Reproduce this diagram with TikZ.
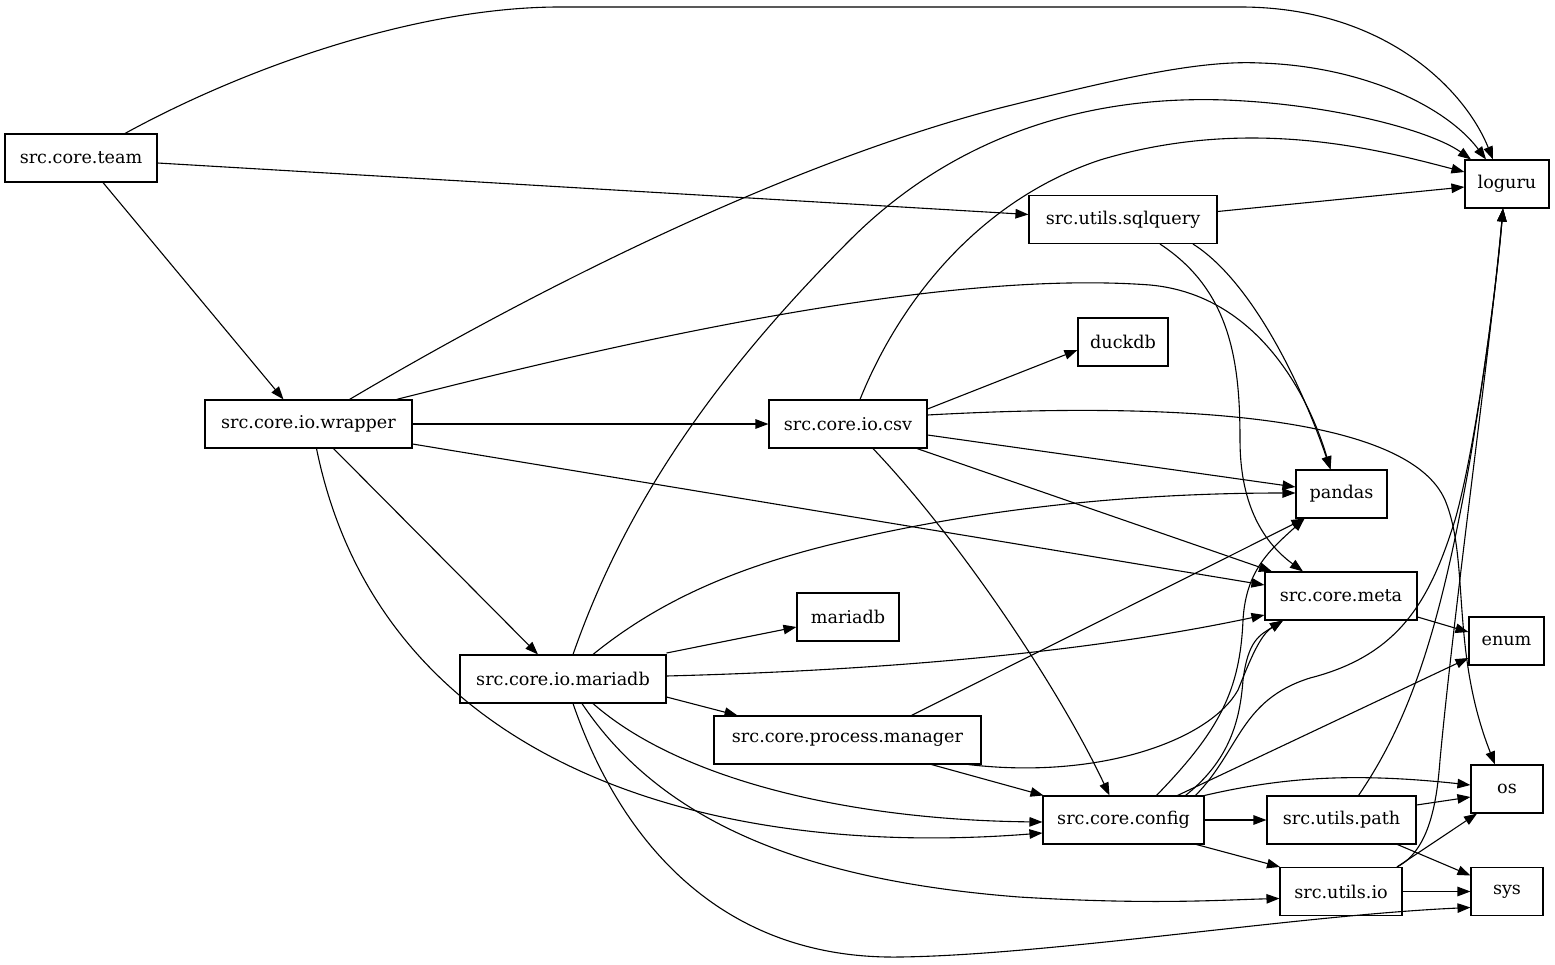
\documentclass[tikz,border=0pt]{standalone}
\usepackage{fontspec}
\setmainfont{DejaVu Serif}
\usetikzlibrary{arrows.meta}
\begin{document}
\begin{tikzpicture}[x=1pt,y=-1pt,
  font=\fontsize{17.6}{21}\selectfont,
  mod/.style={draw,line width=1.1pt,minimum height=48pt,inner sep=0pt},
  dep/.style={line width=1.1pt,-{Triangle[length=13pt,width=9.5pt]}}]
  \fill[white] (0,0) rectangle (1555,965);
  \node[mod,minimum width=152pt] (team) at (81,158) {src.core.team};
  \node[mod,minimum width=84pt] (loguru) at (1507,184) {loguru};
  \node[mod,minimum width=188pt] (sqlquery) at (1123,219.5) {src.utils.sqlquery};
  \node[mod,minimum width=90pt] (duckdb) at (1123,342) {duckdb};
  \node[mod,minimum width=207pt] (wrapper) at (308.5,424) {src.core.io.wrapper};
  \node[mod,minimum width=158pt] (csv) at (848,424) {src.core.io.csv};
  \node[mod,minimum width=91pt] (pandas) at (1341.5,494) {pandas};
  \node[mod,minimum width=152pt] (meta) at (1341,596) {src.core.meta};
  \node[mod,minimum width=102pt] (mariadb) at (848,617) {mariadb};
  \node[mod,minimum width=75pt] (enum) at (1506.5,641) {enum};
  \node[mod,minimum width=206pt] (iomariadb) at (563,679) {src.core.io.mariadb};
  \node[mod,minimum width=267pt] (manager) at (847.5,740) {src.core.process.manager};
  \node[mod,minimum width=72pt] (os) at (1507,789) {os};
  \node[mod,minimum width=161pt] (config) at (1123.5,820) {src.core.config};
  \node[mod,minimum width=149pt] (utilspath) at (1341.5,820) {src.utils.path};
  \node[mod,minimum width=122pt] (utilsio) at (1341,891.5) {src.utils.io};
  \node[mod,minimum width=72pt] (sys) at (1507,891.5) {sys};

  \draw[dep] ([xshift=44pt]team.north) .. controls (250,65) and (420,7) .. (560,7) -- (1240,7)
     .. controls (1385,7) and (1465,90) .. ([xshift=-14pt]loguru.north);
  \draw[dep] ([yshift=-5pt]team.east) -- ([yshift=5pt]sqlquery.west);
  \draw[dep] ([xshift=22pt]team.south) -- ([xshift=-25pt]wrapper.north);

  \draw[dep] ([xshift=41pt]wrapper.north) .. controls (560,275) and (800,160) .. (1000,108)
     .. controls (1120,78) and (1200,60) .. (1260,63) .. controls (1360,66) and (1445,105) .. ([xshift=-21pt]loguru.north);
  \draw[dep] ([xshift=88pt]wrapper.north) .. controls (650,335) and (950,270) .. (1150,285)
     .. controls (1260,295) and (1310,400) .. ([xshift=-11pt]pandas.north);
  \draw[dep] (wrapper.east) -- (csv.west);
  \draw[dep] ([yshift=-20pt]wrapper.east) -- ([yshift=11pt]meta.west);
  \draw[dep] ([xshift=25pt]wrapper.south) -- ([xshift=-25pt]iomariadb.north);
  \draw[dep] ([xshift=8pt]wrapper.south) .. controls (380,760) and (700,860) .. ([yshift=-13pt]config.west);

  \draw[dep] ([xshift=10pt]iomariadb.north) .. controls (620,520) and (700,390) .. (850,240)
     .. controls (950,140) and (1080,95) .. (1225,100) .. controls (1330,104) and (1430,130) .. ([xshift=-36pt]loguru.north);
  \draw[dep] ([xshift=30pt]iomariadb.north) .. controls (660,600) and (740,565) .. (850,540)
     .. controls (1000,505) and (1150,493) .. ([yshift=1pt]pandas.west);
  \draw[dep] ([yshift=26pt]iomariadb.east) -- ([yshift=-10pt]mariadb.west);
  \draw[dep] ([yshift=3pt]iomariadb.east) .. controls (900,670) and (1100,650) .. ([yshift=-19pt]meta.west);
  \draw[dep] ([yshift=-18pt]iomariadb.east) -- ([xshift=-110pt]manager.north);
  \draw[dep] ([xshift=30pt]iomariadb.south) .. controls (680,780) and (850,820) .. ([yshift=-2pt]config.west);
  \draw[dep] ([xshift=19pt]iomariadb.south) .. controls (660,820) and (800,880) .. (1019,897)
     .. controls (1150,905) and (1220,900) .. ([yshift=-7pt]utilsio.west);
  \draw[dep] ([xshift=10pt]iomariadb.south) .. controls (620,840) and (720,960) .. (900,957)
     .. controls (1050,955) and (1300,915) .. ([yshift=-16pt]sys.west);

  \draw[dep] ([xshift=12pt]csv.north) .. controls (900,300) and (980,200) .. (1100,160)
     .. controls (1250,115) and (1380,150) .. ([yshift=12pt]loguru.west);
  \draw[dep] ([yshift=15pt]csv.east) -- ([yshift=-8pt]duckdb.west);
  \draw[dep] ([yshift=9pt]csv.east) .. controls (1200,400) and (1410,420) .. (1445,500)
     .. controls (1470,560) and (1450,650) .. ([xshift=-12pt]os.north);
  \draw[dep] ([yshift=-11pt]csv.east) -- ([yshift=7pt]pandas.west);
  \draw[dep] ([xshift=69pt]csv.south) -- ([xshift=-69pt]meta.north);
  \draw[dep] ([xshift=25pt]csv.south) .. controls (960,540) and (1060,690) .. ([xshift=-14pt]config.north);

  \draw[dep] ([yshift=8pt]sqlquery.east) -- ([yshift=-3pt]loguru.west);
  \draw[dep] ([xshift=70pt]sqlquery.south) .. controls (1250,280) and (1300,380) .. ([xshift=-11pt]pandas.north);
  \draw[dep] ([xshift=37pt]sqlquery.south) .. controls (1230,290) and (1240,360) .. (1240,440)
     .. controls (1240,500) and (1260,540) .. ([xshift=-38pt]meta.north);

  \draw[dep] ([xshift=64pt]manager.north) -- ([xshift=-37pt]pandas.south);
  \draw[dep] ([xshift=121pt]manager.south) .. controls (1100,780) and (1210,740) .. (1238,690)
     .. controls (1250,660) and (1260,635) .. ([xshift=-58pt]meta.south);
  \draw[dep] ([xshift=84pt]manager.south) -- ([xshift=-80pt]config.north);

  \draw[dep] ([xshift=33pt]config.north) .. controls (1220,730) and (1240,690) .. (1243,620)
     .. controls (1246,570) and (1270,550) .. ([xshift=-37pt]pandas.south);
  \draw[dep] ([xshift=62pt]config.north) .. controls (1230,760) and (1240,720) .. (1243,680)
     .. controls (1248,640) and (1260,635) .. ([xshift=-58pt]meta.south);
  \draw[dep] ([xshift=72pt]config.north) .. controls (1240,750) and (1240,700) .. (1310,678)
     .. controls (1400,655) and (1430,600) .. (1455,520) .. controls (1475,450) and (1495,300) .. ([xshift=-4pt]loguru.south);
  \draw[dep] ([xshift=54pt]config.north) -- ([yshift=-17pt]enum.west);
  \draw[dep] (config.north east) .. controls (1280,778) and (1350,772) .. ([yshift=4pt]os.west);
  \draw[dep] (config.east) -- (utilspath.west);
  \draw[dep] ([xshift=73pt]config.south) -- ([xshift=-61pt]utilsio.north);

  \draw[dep] ([yshift=-21pt]meta.east) -- ([yshift=9pt]enum.west);

  \draw[dep] ([xshift=17pt]utilspath.north) .. controls (1410,720) and (1440,630) .. (1470,460)
     .. controls (1485,370) and (1497,280) .. ([xshift=-4pt]loguru.south);
  \draw[dep] ([yshift=15pt]utilspath.east) -- ([yshift=-8pt]os.west);
  \draw[dep] ([xshift=56pt]utilspath.south) -- ([yshift=16pt]sys.west);

  \draw[dep] ([xshift=56pt]utilsio.north) .. controls (1430,850) and (1437,800) .. (1440,760)
     .. controls (1455,600) and (1490,350) .. ([xshift=-4pt]loguru.south);
  \draw[dep] ([xshift=56pt]utilsio.north) -- ([xshift=-30pt]os.south);
  \draw[dep] (utilsio.east) -- (sys.west);
\end{tikzpicture}
\end{document}
